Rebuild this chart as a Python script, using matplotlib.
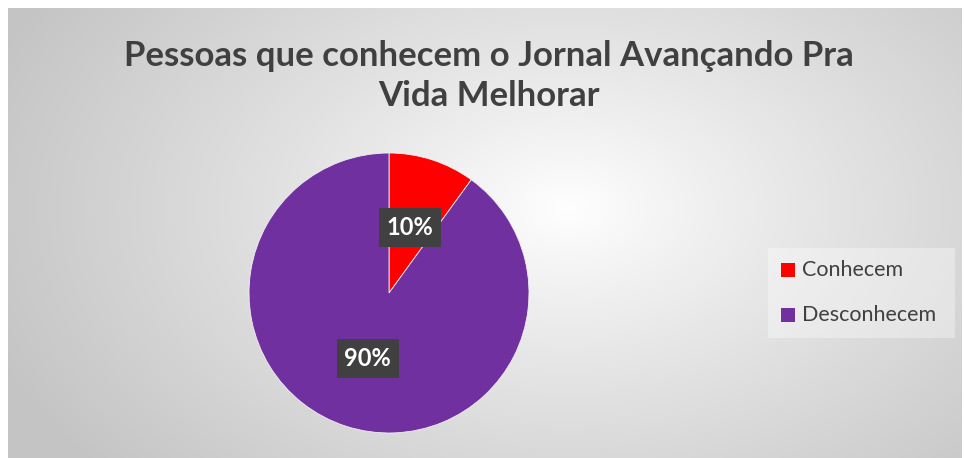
import numpy as np
import matplotlib
matplotlib.use('Agg')
import matplotlib.pyplot as plt
from matplotlib.patches import Rectangle

# Data
categories = ['Conhecem', 'Desconhecem']
shares = [10, 90]
slice_colors = ['#FF0000', '#7030A0']
title = 'Pessoas que conhecem o Jornal Avançando Pra\nVida Melhorar'

W, H = 964, 458
fig = plt.figure(figsize=(W / 100, H / 100), dpi=100)
fig.patch.set_facecolor('white')

# Radial gradient background (chart area)
bg = fig.add_axes([8 / W, 0, (962 - 8) / W, (H - 8) / H])
yy, xx = np.mgrid[0:450, 0:954]
cx, cy = 560, 200
d = np.sqrt(((xx - cx) / 620) ** 2 + ((yy - cy) / 400) ** 2)
d = np.clip(d, 0, 1)
shade = 1.0 - 0.23 * d ** 0.9
img = np.dstack([shade, shade, shade])
bg.imshow(img, aspect='auto', extent=[0, 1, 0, 1], origin='upper')
bg.axis('off')

# Pie: center (389, 293), radius 140 px
r = 140
ax = fig.add_axes([(389 - r) / W, (H - 293 - r) / H, 2 * r / W, 2 * r / H])
wedges, texts = ax.pie(shares, colors=slice_colors, startangle=90,
                       counterclock=False, radius=1,
                       wedgeprops=dict(linewidth=0.6, edgecolor='#f0f0f0'))
ax.set_xlim(-1, 1)
ax.set_ylim(-1, 1)
ax.set_aspect('equal')
ax.axis('off')

# Data labels
angle = 90
for w, s in zip(wedges, shares):
    mid = np.deg2rad(angle - s * 3.6 / 2)
    angle -= s * 3.6
    ax.text(0.49 * np.cos(mid), 0.49 * np.sin(mid), f'{s}%',
            ha='center', va='center', color='white', fontsize=17,
            fontweight='bold', family='Lato',
            bbox=dict(boxstyle='square,pad=0.33', facecolor='#404040',
                      edgecolor='none'))

# Title
fig.text(489 / W, 1 - 76 / H, title, ha='center', va='center',
         fontsize=25, fontweight='bold', color='#404040', family='Lato',
         linespacing=1.3)

# Legend
leg = fig.add_axes([768 / W, (H - 338) / H, (955 - 768) / W, 90 / H])
leg.set_xlim(0, 187)
leg.set_ylim(90, 0)
leg.add_patch(Rectangle((0, 0), 187, 90, facecolor='white', alpha=0.35,
                        edgecolor='none'))
for i, (lab, c) in enumerate(zip(categories, slice_colors)):
    y = 22 + i * 45
    leg.add_patch(Rectangle((13, y - 7), 14, 14, facecolor=c, edgecolor='none'))
    leg.text(34, y, lab, va='center', ha='left', fontsize=15.5,
             color='#404040', family='Lato')
leg.axis('off')

fig.savefig('out.png', dpi=100)
